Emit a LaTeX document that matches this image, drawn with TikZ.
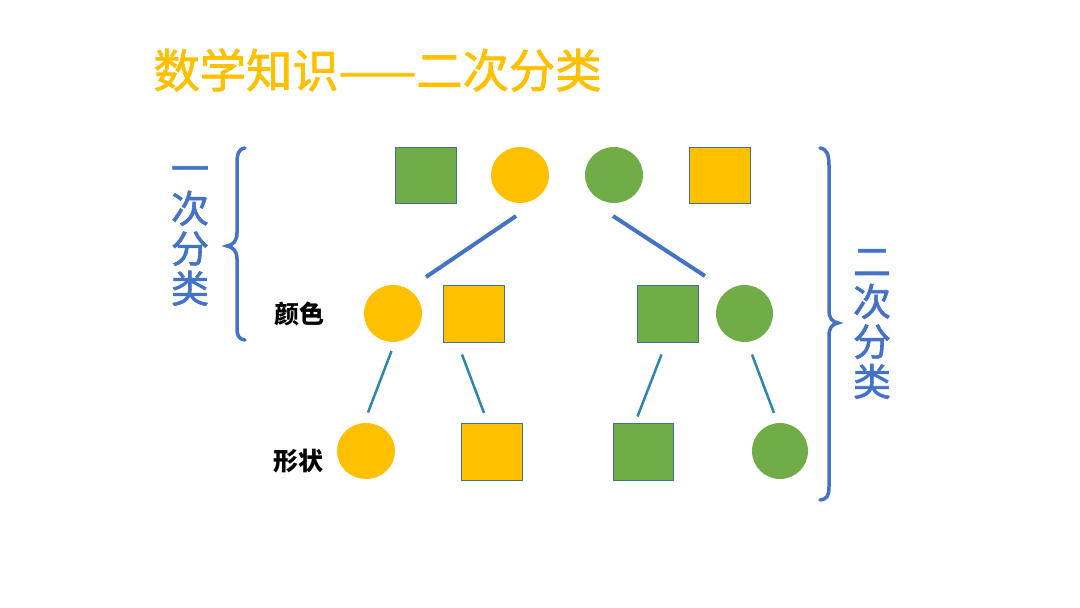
\documentclass[tikz,border=0pt]{standalone}
\usepackage{fontspec}
\setmainfont{Noto Sans CJK SC}
\newfontfamily\medcjk{Noto Sans CJK SC}[FakeBold=1.6]
\usetikzlibrary{shapes.geometric}
\definecolor{gold}{HTML}{FFC000}
\definecolor{leaf}{HTML}{70AD47}
\definecolor{blu}{HTML}{4472C4}
\definecolor{tealline}{HTML}{2E86AB}
\definecolor{edgec}{HTML}{41719C}
\tikzset{
  sq/.style={rectangle, draw=edgec, line width=0.8pt, minimum width=61pt, minimum height=56pt, inner sep=0pt},
  circ/.style={ellipse, minimum width=58pt, minimum height=56pt, inner sep=0pt},
  ysq/.style={sq, fill=gold},
  gsq/.style={sq, fill=leaf},
  ycirc/.style={circ, fill=gold},
  gcirc/.style={circ, fill=leaf},
  level1/.style={draw=blu, line width=4pt},
  level2/.style={draw=tealline, line width=2.5pt},
  bracec/.style={draw=blu, line width=3.5pt, line cap=round},
  vtext/.style={text=blu, align=center, font=\medcjk\fontsize{38}{40}\selectfont},
  lbl/.style={font=\fontsize{25}{25}\selectfont\bfseries, text=black}
}
\begin{document}
\begin{tikzpicture}[x=1pt, y=-1pt]
\useasboundingbox (0,0) rectangle (1080,608);
\node[text=gold, font=\medcjk\fontsize{46.3}{46.3}\selectfont] (title) at (377.5,70) {数学知识——二次分类};
% top row
\node[gsq] (t1) at (425.5,175) {};
\node[ycirc] (t2) at (520,175) {};
\node[gcirc] (t3) at (614,175) {};
\node[ysq] (t4) at (719.5,175) {};
% middle row
\node[ycirc, minimum height=57pt] (m1) at (393,313.5) {};
\node[ysq, minimum height=57pt] (m2) at (473.5,313.5) {};
\node[gsq, minimum height=57pt] (m3) at (667.5,313.5) {};
\node[gcirc, minimum height=57pt, minimum width=57pt] (m4) at (744.5,313.5) {};
% bottom row
\node[ycirc] (b1) at (366,451) {};
\node[ysq, minimum height=57pt] (b2) at (491.5,451.5) {};
\node[gsq, minimum height=57pt, minimum width=60pt] (b3) at (643,451.5) {};
\node[gcirc, minimum width=56pt] (b4) at (780,451) {};
% labels
\node[lbl] (l1) at (299,314) {颜色};
\node[lbl] (l2) at (298,461) {形状};
\node[vtext] (v1) at (190,236) {一\\次\\分\\类};
\node[vtext] (v2) at (872,324) {二\\次\\分\\类};
% connector ends
\coordinate (p1a) at (516,216); \coordinate (p1b) at (426,277);
\coordinate (p2a) at (613,216); \coordinate (p2b) at (705,276);
\coordinate (q1a) at (391.5,351); \coordinate (q1b) at (368,412.5);
\coordinate (q2a) at (462,354.5); \coordinate (q2b) at (484,413);
\coordinate (q3a) at (661.5,354.5); \coordinate (q3b) at (637.5,416.5);
\coordinate (q4a) at (752,354.5); \coordinate (q4b) at (774,413);
\draw[level1] (p1a) -- (p1b);
\draw[level1] (p2a) -- (p2b);
\draw[level2] (q1a) -- (q1b);
\draw[level2] (q2a) -- (q2b);
\draw[level2] (q3a) -- (q3b);
\draw[level2] (q4a) -- (q4b);
% braces
\draw[bracec] (245,148) .. controls (238,149) and (237,155) .. (237,163) -- (237,233)
  .. controls (237,241) and (233,245) .. (227,246)
  .. controls (233,247) and (237,251) .. (237,259) -- (237,327)
  .. controls (237,335) and (238,339) .. (245,340);
\draw[bracec] (820,148) .. controls (827,149) and (829,155) .. (829,165) -- (829,310)
  .. controls (829,318) and (832,322) .. (838,323)
  .. controls (832,324) and (829,328) .. (829,336) -- (829,487)
  .. controls (829,496) and (827,499) .. (820,500);
\end{tikzpicture}
\end{document}
